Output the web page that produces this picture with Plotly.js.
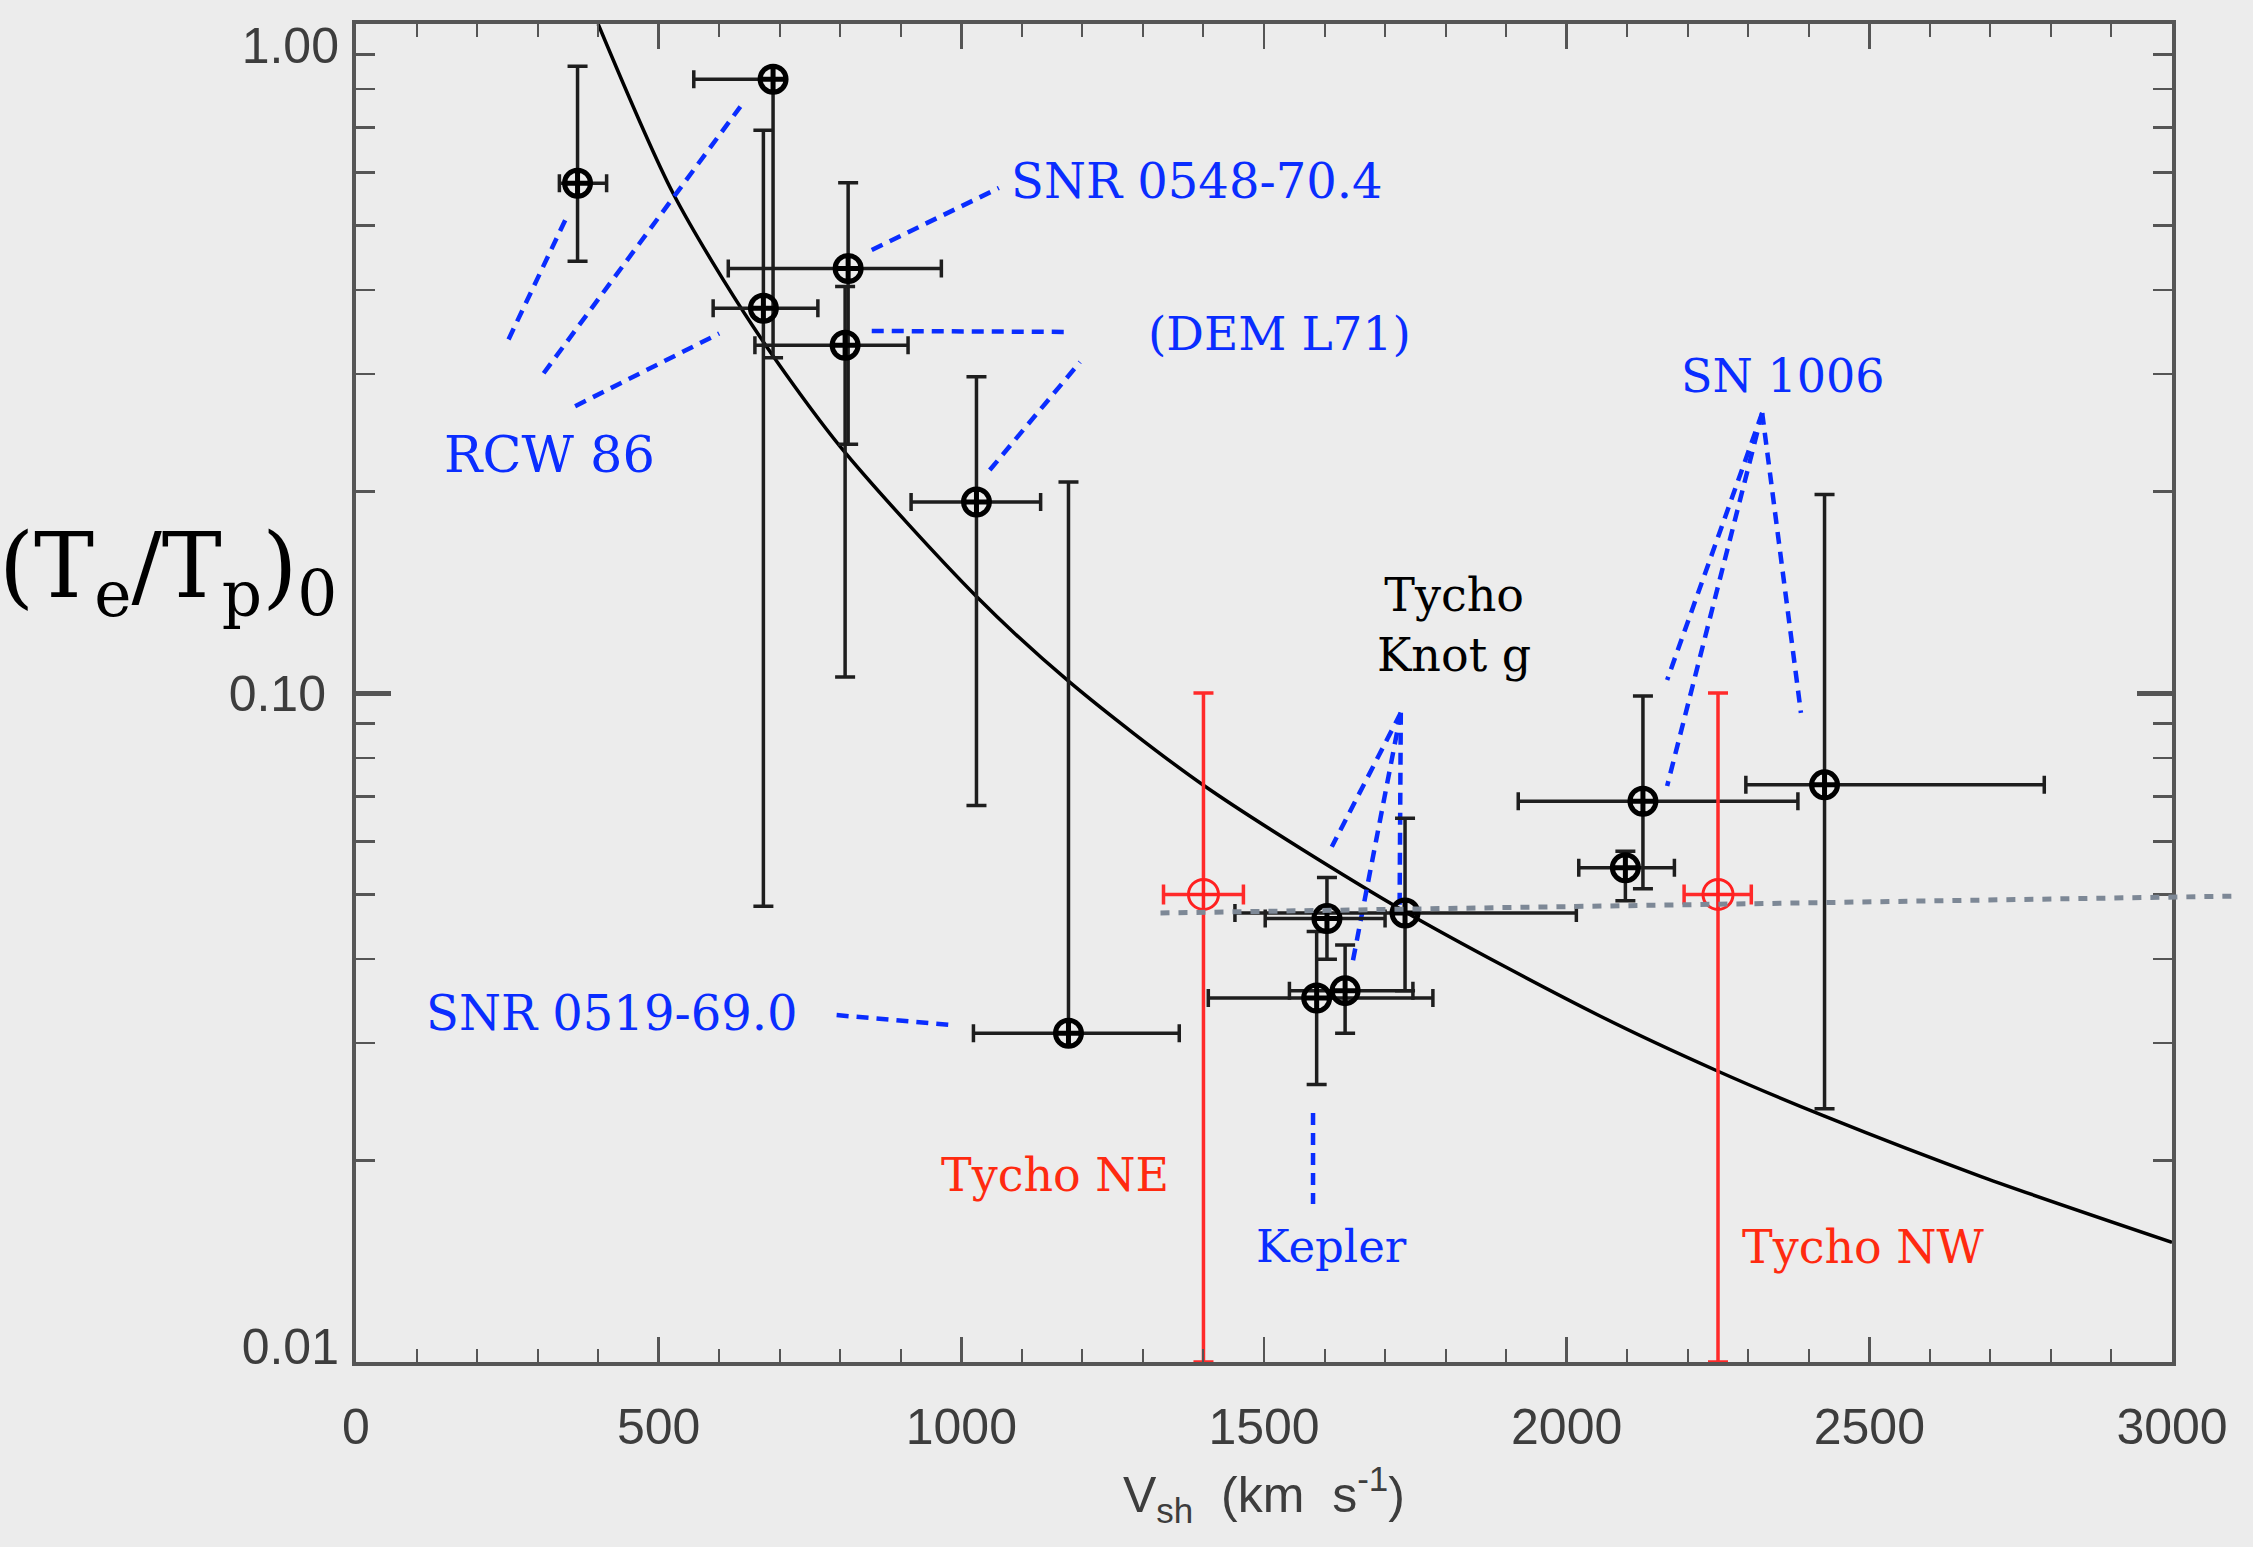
<!DOCTYPE html>
<html>
<head>
<meta charset="utf-8">
<script src="https://cdn.plot.ly/plotly-3.0.1.min.js"></script>
<style>
html,body{margin:0;padding:0;background:#ececec;}
#chart{width:2253px;height:1547px;}
</style>
</head>
<body>
<div id="chart"></div>
<script>
// ---------- data ----------
// black points (shock speed in km/s, (Te/Tp)0)
const vsh      = [366, 689, 673, 813, 808, 1025, 1177, 1604, 1587, 1634, 1733, 2126, 2097, 2426];
const vshLow   = [336, 558, 590, 615, 659,  917, 1020, 1502, 1408, 1542, 1452, 1920, 2020, 2296];
const vshHigh  = [414, 689, 763, 967, 912, 1131, 1360, 1700, 1779, 1746, 2016, 2382, 2178, 2789];
const ratio     = [0.578, 0.827, 0.376, 0.431, 0.331, 0.193, 0.031, 0.046, 0.035, 0.0359, 0.0469, 0.0689, 0.0548, 0.0729];
const ratioLow  = [0.442, 0.317, 0.048, 0.2355, 0.1057, 0.0679, 0.031, 0.040, 0.026, 0.031, 0.0359, 0.051, 0.0489, 0.0239];
const ratioHigh = [0.865, 0.827, 0.694, 0.579, 0.405, 0.297, 0.2067, 0.053, 0.044, 0.042, 0.065, 0.099, 0.058, 0.198];

// red points (Tycho NE, Tycho NW)
const tychoV      = [1400, 2250];
const tychoVLow   = [1334, 2194];
const tychoVHigh  = [1466, 2305];
const tychoR      = [0.05, 0.05];
const tychoRLow   = [0.01, 0.01];
const tychoRHigh  = [0.10, 0.10];

// solid fit curve
const fitV     = [400, 524, 656, 800, 1025, 1179, 1400, 1733, 2055, 2250, 2426, 2687, 3000];
const fitRatio = [1.0, 0.558, 0.353, 0.2335, 0.1394, 0.1038, 0.0728, 0.0471, 0.0329, 0.0272, 0.0233, 0.0189, 0.0151];

// grey dotted trend
const trendV     = [1329, 3101];
const trendRatio = [0.0469, 0.0497];

// blue dashed leader lines (label -> point), segments separated by null
const leaderV = [252, 351, null, 310, 635, null, 362, 600, null,
                 852, 1062, null,
                 852, 1176, null, 1047, 1196, null,
                 2323, 2166, null, 2323, 2166, null, 2323, 2387, null,
                 1726, 1612, null, 1726, 1645, null, 1726, 1724, null,
                 1581, 1581, null,
                 794, 984];
const leaderR = [0.3377, 0.5212, null, 0.3006, 0.7525, null, 0.2684, 0.3447, null,
                 0.4595, 0.5687, null,
                 0.3477, 0.3465, null, 0.2154, 0.3124, null,
                 0.2622, 0.1046, null, 0.2622, 0.0726, null, 0.2622, 0.0934, null,
                 0.0934, 0.0589, null, 0.0934, 0.0390, null, 0.0934, 0.0474, null,
                 0.02356, 0.01722, null,
                 0.0330, 0.0319];

const xTickVals = [0, 500, 1000, 1500, 2000, 2500, 3000];
const xTickText = ['0', '500', '1000', '1500', '2000', '2500', '3000'];
const yTickVals = [0.01, 0.1, 1];
const yTickText = ['0.01', '0.10', '1.00'];
const yMinorVals = [0.02,0.03,0.04,0.05,0.06,0.07,0.08,0.09,0.2,0.3,0.4,0.5,0.6,0.7,0.8,0.9];

// ---------- traces ----------
const plus  = (hi, c) => hi.map((h, i) => h - c[i]);
const minus = (lo, c) => lo.map((l, i) => c[i] - l);

const traces = [
  { // fit curve
    x: fitV, y: fitRatio, type: 'scatter', mode: 'lines',
    line: {color: '#000', width: 3.5, shape: 'spline', smoothing: 0.8},
    hoverinfo: 'skip'
  },
  { // dotted grey trend (extends past the frame)
    x: trendV, y: trendRatio, type: 'scatter', mode: 'lines', xaxis: 'x2', yaxis: 'y',
    line: {color: '#7d8896', width: 5, dash: '9px,9px'},
    hoverinfo: 'skip'
  },
  { // leader lines
    x: leaderV, y: leaderR, type: 'scatter', mode: 'lines', connectgaps: false,
    line: {color: '#0a2dff', width: 4.5, dash: '12px,8px'},
    hoverinfo: 'skip'
  },
  { // black data
    x: vsh, y: ratio, type: 'scatter', mode: 'markers',
    marker: {symbol: 'circle-cross-open', size: 26, color: '#000', line: {width: 5, color: '#000'}},
    error_x: {type: 'data', symmetric: false, array: plus(vshHigh, vsh), arrayminus: minus(vshLow, vsh),
              color: '#1e1e1e', thickness: 3.5, width: 9},
    error_y: {type: 'data', symmetric: false, array: plus(ratioHigh, ratio), arrayminus: minus(ratioLow, ratio),
              color: '#1e1e1e', thickness: 3.5, width: 10}
  },
  { // red Tycho
    x: tychoV, y: tychoR, type: 'scatter', mode: 'markers',
    marker: {symbol: 'circle-cross-open', size: 30, color: '#ff2020', line: {width: 3, color: '#ff2020'}},
    error_x: {type: 'data', symmetric: false, array: plus(tychoVHigh, tychoV), arrayminus: minus(tychoVLow, tychoV),
              color: '#ff2a2a', thickness: 3.5, width: 10},
    error_y: {type: 'data', symmetric: false, array: plus(tychoRHigh, tychoR), arrayminus: minus(tychoRLow, tychoR),
              color: '#ff2a2a', thickness: 3.5, width: 10}
  },
  // empty traces that register the label-only overlay y axes
  {x: [], y: [], type: 'scatter', mode: 'markers', yaxis: 'y2', hoverinfo: 'skip'},
  {x: [], y: [], type: 'scatter', mode: 'markers', yaxis: 'y3', hoverinfo: 'skip'}
];

// ---------- layout ----------
const axisGrey = '#555555';
const tickFont = {family: 'Liberation Sans, Arial, sans-serif', size: 50, color: '#3d3d3d'};
const serif = 'DejaVu Serif, serif';
const blue = '#0a2dff', red = '#ff2a10';

function lab(text, x, ly, color, size) {
  return {text: text, x: x, y: ly, xref: 'x', yref: 'y', showarrow: false,
          xanchor: 'center', yanchor: 'middle',
          font: {family: serif, size: size, color: color}};
}

// label-only overlay axes so the end labels sit inside the frame as in the reference
function labelAxis(idx, pos, shift) {
  return {
    type: 'log', range: [-2, 0], autorange: false, overlaying: 'y', anchor: 'x', side: 'left',
    tickmode: 'array', tickvals: [yTickVals[idx]], ticktext: [yTickText[idx]],
    ticks: '', showline: false, showgrid: false, zeroline: false,
    tickfont: tickFont, ticklabelstandoff: 16, ticklabelposition: pos, ticklabelshift: shift,
    ticklabeloverflow: 'allow'
  };
}

const layout = {
  width: 2253, height: 1547,
  paper_bgcolor: '#ececec', plot_bgcolor: 'rgba(0,0,0,0)',
  margin: {l: 356, r: 0, t: 24, b: 185, pad: 0},
  showlegend: false,
  xaxis: {
    domain: [0, 0.9573], range: [0, 3000], anchor: 'y',
    tickmode: 'array', tickvals: xTickVals, ticktext: xTickText,
    ticks: 'inside', ticklen: 25, tickwidth: 2.5, tickcolor: axisGrey,
    showline: true, linecolor: axisGrey, linewidth: 4, mirror: 'ticks',
    showgrid: false, zeroline: false,
    minor: {ticks: 'inside', dtick: 100, tick0: 0, ticklen: 13, tickwidth: 2, tickcolor: axisGrey, showgrid: false},
    tickfont: tickFont, ticklabelstandoff: 18, ticklabeloverflow: 'allow',
    title: {text: 'V<sub>sh</sub>  (km  s<sup>-1</sup>)', font: {family: 'Liberation Sans, Arial, sans-serif', size: 50, color: '#3d3d3d'}, standoff: 24}
  },
  xaxis2: {domain: [0, 1], range: [0, 3000 / 0.9573], anchor: 'y', visible: false, showgrid: false, zeroline: false},
  yaxis: {
    type: 'log', range: [-2, 0], anchor: 'x',
    tickmode: 'array', tickvals: yTickVals, ticktext: ['', yTickText[1], ''],
    ticks: 'inside', ticklen: 35, tickwidth: 5, tickcolor: axisGrey,
    showline: true, linecolor: axisGrey, linewidth: 4, mirror: 'ticks',
    showgrid: false, zeroline: false,
    minor: {ticks: 'inside', tickmode: 'array', tickvals: yMinorVals, ticklen: 19, tickwidth: 2.5, tickcolor: axisGrey, showgrid: false},
    tickfont: tickFont, ticklabelstandoff: 16, ticklabeloverflow: 'allow'
  },
  yaxis2: labelAxis(2, 'outside bottom', -14),
  yaxis3: labelAxis(0, 'outside top', 19),
  annotations: [
    {text: '(T<sub>e</sub>/T<sub>p</sub>)<sub>0</sub>', xref: 'paper', yref: 'paper',
     x: (168 - 356) / 1897, y: (1362 - 572) / 1338, xanchor: 'center', yanchor: 'middle', showarrow: false,
     font: {family: serif, size: 90, color: '#000'}},
    lab('RCW 86', 319, -0.643, blue, 51),
    lab('SNR 0548-70.4', 1389, -0.235, blue, 48),
    lab('(DEM L71)', 1526, -0.462, blue, 47),
    lab('SN 1006', 2356, -0.526, blue, 46),
    lab('Tycho<br>Knot g', 1814, -0.898, '#000', 46),
    lab('SNR 0519-69.0', 423, -1.478, blue, 48),
    lab('Tycho NE', 1155, -1.7205, red, 46),
    lab('Kepler', 1612, -1.827, blue, 45),
    lab('Tycho NW', 2490, -1.828, red, 46)
  ]
};

Plotly.newPlot('chart', traces, layout, {staticPlot: true, displayModeBar: false});
</script>
</body>
</html>
